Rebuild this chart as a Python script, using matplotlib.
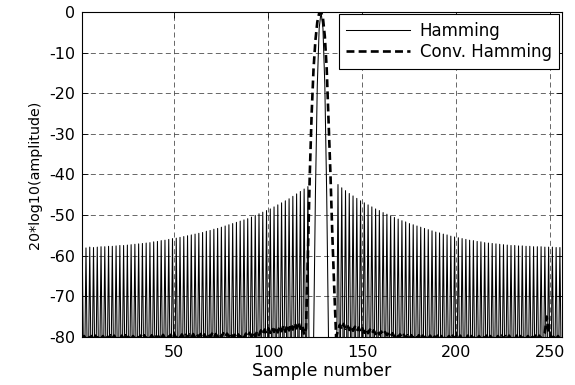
import numpy as np
import matplotlib
matplotlib.use('Agg')
import matplotlib.pyplot as plt

plt.rcParams['font.family'] = ['DejaVu Sans']
plt.rcParams['axes.unicode_minus'] = False

# sample axis
n_samples = 256
x_ticks = [50, 100, 150, 200, 250]
y_ticks = [0, -10, -20, -30, -40, -50, -60, -70, -80]

# Hamming: sidelobe peaks at odd samples 1..121 (left) and 137..255 (right), dB
hamming_peaks_left = [
    -58.0, -58.1, -57.9, -58.0, -57.9, -57.8, -57.8, -57.7, -57.7, -57.6, -57.5, -57.5, -57.4, -57.3, -57.2,
    -57.1, -57.0, -56.9, -56.8, -56.6, -56.5, -56.3, -56.2, -56.0, -55.8, -55.7, -55.5, -55.3, -55.1, -54.9,
    -54.7, -54.5, -54.3, -54.0, -53.8, -53.5, -53.3, -53.0, -52.7, -52.4, -52.1, -51.8, -51.5, -51.2, -50.9,
    -50.5, -50.1, -49.7, -49.3, -48.9, -48.5, -48.0, -47.5, -47.0, -46.5, -46.0, -45.4, -44.8, -44.2, -43.6, -43.0,
]
# main lobe, samples 122..136
hamming_main = [-110, -95, -82, -45, -18, -4, 0, -4, -18, -45, -82, -95, -110, -100, -105]
hamming_peaks_right = [
    -42.5, -43.3, -44.0, -44.7, -45.3, -45.9, -46.5, -47.0, -47.5, -48.0, -48.5, -48.9, -49.4, -49.8, -50.2,
    -50.6, -51.0, -51.4, -51.7, -52.1, -52.4, -52.7, -53.0, -53.3, -53.6, -53.9, -54.2, -54.4, -54.7, -54.9,
    -55.2, -55.4, -55.6, -55.8, -56.0, -56.2, -56.3, -56.5, -56.6, -56.8, -56.9, -57.0, -57.1, -57.2, -57.3,
    -57.4, -57.5, -57.5, -57.6, -57.6, -57.7, -57.7, -57.8, -57.8, -57.8, -57.9, -57.9, -57.9, -58.0, -58.0,
]
hamming_null = -100  # nulls between sidelobes, below the plotted range

# Conv. Hamming, samples 1..256, dB
conv_hamming = [
    -80.5, -79.8, -80.6, -79.7, -80.4, -79.8, -80.6, -79.7, -80.5, -79.6, -80.4, -79.8, -80.6, -79.7, -80.5, -79.6,
    -80.4, -79.7, -80.5, -79.8, -80.6, -79.7, -80.4, -79.6, -80.5, -79.7, -80.6, -79.8, -80.4, -79.6, -80.5, -79.7,
    -80.4, -79.6, -80.5, -79.7, -80.3, -79.6, -80.4, -79.5, -80.5, -79.6, -80.3, -79.5, -80.4, -79.6, -80.2, -79.5,
    -80.3, -79.4, -80.4, -79.5, -80.2, -79.4, -80.3, -79.5, -80.2, -79.4, -80.3, -79.3, -80.2, -79.4, -80.1, -79.3,
    -80.2, -79.4, -80.3, -79.3, -80.1, -79.2, -80.2, -79.3, -80.0, -79.2, -80.1, -79.1, -80.0, -79.2, -79.9, -79.0,
    -80.2, -79.5, -80.3, -79.4, -80.1, -79.3, -80.2, -79.2, -80.0, -79.0, -79.8, -78.8, -79.9, -78.6, -79.6, -78.4,
    -79.4, -78.2, -79.2, -77.9, -79.0, -77.8, -78.8, -77.6, -78.9, -77.4, -78.6, -77.2, -78.7, -77.0, -78.4, -76.8,
    -78.2, -76.6, -77.9, -76.4, -78.0, -77.0, -79.5, -78.0, -60.0, -40.0, -25.0, -14.0, -7.0, -2.5, -0.3, 0.0,
    -1.5, -6.0, -14.0, -27.0, -40.0, -55.0, -68.0, -80.0, -78.5, -77.0, -78.2, -76.8, -78.0, -77.1, -78.3, -77.3,
    -78.5, -77.5, -78.6, -77.7, -78.8, -77.9, -79.0, -78.0, -79.1, -78.2, -79.2, -78.4, -79.3, -78.5, -79.4, -78.7,
    -79.5, -78.8, -79.6, -79.0, -79.8, -79.1, -80.0, -79.3, -80.1, -79.4, -80.2, -79.5, -80.3, -79.6, -80.4, -79.6,
    -80.3, -79.5, -80.4, -79.6, -80.5, -79.7, -80.4, -79.6, -80.5, -79.7, -80.4, -79.6, -80.5, -79.7, -80.6, -79.8,
    -80.5, -79.7, -80.6, -79.8, -80.5, -79.7, -80.4, -79.8, -80.6, -79.7, -80.5, -79.8, -80.6, -79.7, -80.5, -79.8,
    -80.6, -79.7, -80.5, -79.8, -80.6, -79.8, -80.5, -79.7, -80.6, -79.8, -80.5, -79.7, -80.6, -79.8, -80.5, -79.7,
    -80.5, -79.8, -80.6, -79.7, -80.5, -79.8, -80.6, -79.7, -80.5, -79.8, -80.6, -79.7, -80.5, -79.8, -80.6, -79.7,
    -80.5, -79.7, -80.5, -79.7, -80.4, -79.6, -79.0, -75.0, -79.2, -79.6, -80.5, -79.7, -80.5, -79.8, -80.6, -79.7,
]

samples = np.arange(1, n_samples + 1)
hamming = np.full(n_samples, float(hamming_null))
hamming[0:121:2] = hamming_peaks_left
hamming[121:136] = hamming_main
hamming[136:255:2] = hamming_peaks_right

fig = plt.figure(figsize=(5.75, 3.85), dpi=100)
ax = fig.add_axes([0.143, 0.125, 0.834, 0.844])

ax.plot(samples, hamming, color='black', linewidth=0.75, label='Hamming')
ax.plot(samples, conv_hamming, color='black', linewidth=1.9, linestyle=(0, (3, 1.6)),
        label='Conv. Hamming')

ax.set_xlim(1, n_samples)
ax.set_ylim(-80, 0)
ax.set_xticks(x_ticks)
ax.set_yticks(y_ticks)
ax.tick_params(direction='in', length=4, width=0.6, top=True, right=True,
               labelsize=11.5, pad=6)
ax.tick_params(axis='y', pad=5)
ax.grid(True, color='0.3', linestyle=(0, (6, 4)), linewidth=0.6)
for s in ax.spines.values():
    s.set_linewidth(0.8)

ax.set_xlabel('Sample number', fontsize=12.5, labelpad=1)
ax.set_ylabel('20*log10(amplitude)', fontsize=10.3, labelpad=5)

leg = ax.legend(loc='upper right', fontsize=12, handlelength=3.8, borderaxespad=0.15,
                fancybox=False, framealpha=1, edgecolor='black', borderpad=0.45,
                labelspacing=0.2, handletextpad=0.6)
leg.get_frame().set_linewidth(0.8)

fig.savefig('out.png', dpi=100)
